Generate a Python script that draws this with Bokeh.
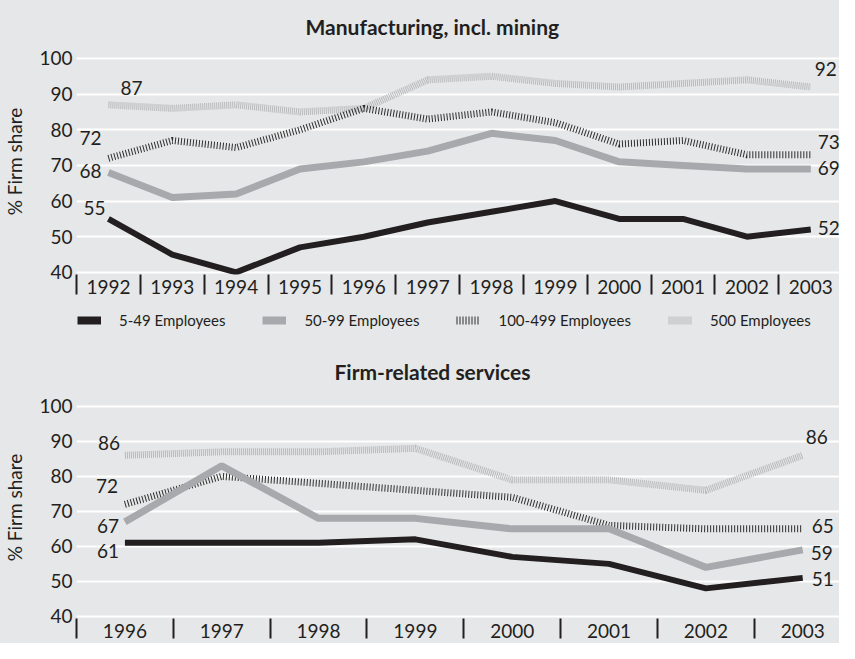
from bokeh.plotting import figure
from bokeh.models import Range1d, FixedTicker, Legend, LegendItem, ColumnDataSource
from bokeh.layouts import column
from bokeh.embed import file_html
from bokeh.resources import INLINE
from bokeh.core.properties import value

# ---------------- data ----------------
series_names = ["5-49 Employees", "50-99 Employees", "100-499 Employees", "500 Employees"]
y_ticks = [40, 50, 60, 70, 80, 90, 100]

top_title = "Manufacturing, incl. mining"
top_years = [1992, 1993, 1994, 1995, 1996, 1997, 1998, 1999, 2000, 2001, 2002, 2003]
top_small = [55, 45, 40, 47, 50, 54, 57, 60, 55, 55, 50, 52]
top_mid = [68, 61, 62, 69, 71, 74, 79, 77, 71, 70, 69, 69]
top_large = [72, 77, 75, 80, 86, 83, 85, 82, 76, 77, 73, 73]
top_big = [87, 86, 87, 85, 86, 94, 95, 93, 92, 93, 94, 92]

bot_title = "Firm-related services"
bot_years = [1996, 1997, 1998, 1999, 2000, 2001, 2002, 2003]
bot_small = [61, 61, 61, 62, 57, 55, 48, 51]
bot_mid = [67, 83, 68, 68, 65, 65, 54, 59]
bot_large = [72, 80, 78, 76, 74, 66, 65, 65]
bot_big = [86, 87, 87, 88, 79, 79, 76, 86]

# ---------------- styles ----------------
BG = "#e6e7e8"
INK = "#231f20"
FONT = "Lato"
colors = [INK, "#a7a9ac", "#2e2e2e", "#b8b9bb"]
widths = [6, 7, 7, 7]
dashes = ["solid", "solid", "1 2", "1 1"]

# label offsets (screen px): start labels centred, end labels left-aligned
top_start_off = [(-14, -11), (-18, -2), (-18, -20), (23, -17)]
top_end_off = [(7, -2), (7, -1), (7, -13), (4, -18)]
bot_start_off = [(-17, 8), (-17, 4), (-18, -18), (-16, -12)]
bot_end_off = [(9, 1), (8, 3), (9, -3), (3, -18)]


def make_panel(title, years, series, start_off, end_off, height, mb_top, mb_bottom,
               x_end, title_offset, title_standoff, title_valign):
    p = figure(width=839, height=height, output_backend="svg", toolbar_location=None,
               x_range=Range1d(years[0] - 0.5, x_end), y_range=Range1d(39.4, 102.8),
               min_border_left=67, min_border_right=0, min_border_top=mb_top,
               min_border_bottom=mb_bottom, background_fill_color=BG,
               border_fill_color=BG, outline_line_color=None)
    p.title.text = title
    p.title.align = "left"
    p.title.offset = title_offset
    p.title.standoff = title_standoff
    p.title.vertical_align = title_valign
    p.title.text_font = FONT
    p.title.text_font_size = "21px"
    p.title.text_font_style = "bold"
    p.title.text_color = INK

    p.yaxis.ticker = FixedTicker(ticks=y_ticks)
    p.yaxis.axis_line_color = None
    p.yaxis.major_tick_line_color = None
    p.yaxis.minor_tick_line_color = None
    p.yaxis.major_tick_out = 0
    p.yaxis.major_label_standoff = 4
    p.yaxis.major_label_text_font = FONT
    p.yaxis.major_label_text_font_size = "19px"
    p.yaxis.major_label_text_color = INK
    p.yaxis.axis_label = "% Firm share"
    p.yaxis.axis_label_text_font = FONT
    p.yaxis.axis_label_text_font_size = "19px"
    p.yaxis.axis_label_text_font_style = "normal"
    p.yaxis.axis_label_text_color = INK
    p.yaxis.axis_label_standoff = 10

    p.xaxis.ticker = FixedTicker(ticks=years, minor_ticks=[y - 0.5 for y in years])
    p.xaxis.major_label_overrides = {y: str(y) for y in years}
    p.xaxis.axis_line_color = None
    p.xaxis.major_tick_line_color = None
    p.xaxis.major_tick_out = 0
    p.xaxis.major_tick_in = 0
    p.xaxis.minor_tick_line_color = INK
    p.xaxis.minor_tick_line_width = 2
    p.xaxis.minor_tick_in = 0
    p.xaxis.minor_tick_out = 20
    p.xaxis.major_label_standoff = -15
    p.xaxis.major_label_text_font = FONT
    p.xaxis.major_label_text_font_size = "19px"
    p.xaxis.major_label_text_color = INK

    p.xgrid.grid_line_color = None
    p.ygrid.ticker = FixedTicker(ticks=y_ticks)
    p.ygrid.grid_line_color = "white"
    p.ygrid.grid_line_width = 2

    for idx in [3, 2, 1, 0]:
        p.line(years, series[idx], line_color=colors[idx], line_width=widths[idx],
               line_dash=dashes[idx])

    sx, sy, stxt, sxo, syo = [], [], [], [], []
    ex, ey, etxt, exo, eyo = [], [], [], [], []
    for idx, vals in enumerate(series):
        sx.append(years[0]); sy.append(vals[0]); stxt.append(str(vals[0]))
        sxo.append(start_off[idx][0]); syo.append(start_off[idx][1])
        ex.append(years[-1]); ey.append(vals[-1]); etxt.append(str(vals[-1]))
        exo.append(end_off[idx][0]); eyo.append(end_off[idx][1])
    s_src = ColumnDataSource(dict(x=sx, y=sy, text=stxt, xo=sxo, yo=syo))
    e_src = ColumnDataSource(dict(x=ex, y=ey, text=etxt, xo=exo, yo=eyo))
    for src, align in [(s_src, "center"), (e_src, "left")]:
        p.text(x="x", y="y", text="text", x_offset="xo", y_offset="yo", source=src,
               text_font=value(FONT), text_font_size="19px", text_color=INK,
               text_align=align, text_baseline="middle")
    return p


p1 = make_panel(top_title, top_years, [top_small, top_mid, top_large, top_big],
                top_start_off, top_end_off, 306, 48, 32, 2003.45, 229, 16, "top")
p2 = make_panel(bot_title, bot_years, [bot_small, bot_mid, bot_large, bot_big],
                bot_start_off, bot_end_off, 309, 62, 25, 2003.38, 258, 26, "bottom")

# legend strip (uses the manufacturing series, drawn invisibly, for its swatches)
pl = figure(width=839, height=28, output_backend="svg", toolbar_location=None,
            x_range=Range1d(top_years[0] - 0.5, 2003.45), y_range=Range1d(0, 100),
            x_axis_location=None, y_axis_location=None,
            min_border_left=0, min_border_right=0, min_border_top=0, min_border_bottom=0,
            background_fill_color=BG, border_fill_color=BG, outline_line_color=None)
pl.grid.visible = False
leg_renderers = []
for idx, vals in enumerate([top_small, top_mid, top_large, top_big]):
    r = pl.line(top_years, vals, line_color=colors[idx], line_width=8,
                line_dash=dashes[idx], visible=False)
    leg_renderers.append(r)
legend = Legend(items=[LegendItem(label=n, renderers=[r]) for n, r in zip(series_names, leg_renderers)],
                orientation="horizontal", location=(1, 4), padding=0, margin=0,
                spacing=37, label_standoff=18, glyph_width=24, glyph_height=20,
                label_text_font=FONT, label_text_font_size="15px", label_text_color=INK,
                border_line_color=None, background_fill_alpha=0)
pl.add_layout(legend, "center")

layout = column(p1, pl, p2, spacing=0, styles={"background-color": BG})
open("out.html", "w").write(file_html(layout, INLINE))
